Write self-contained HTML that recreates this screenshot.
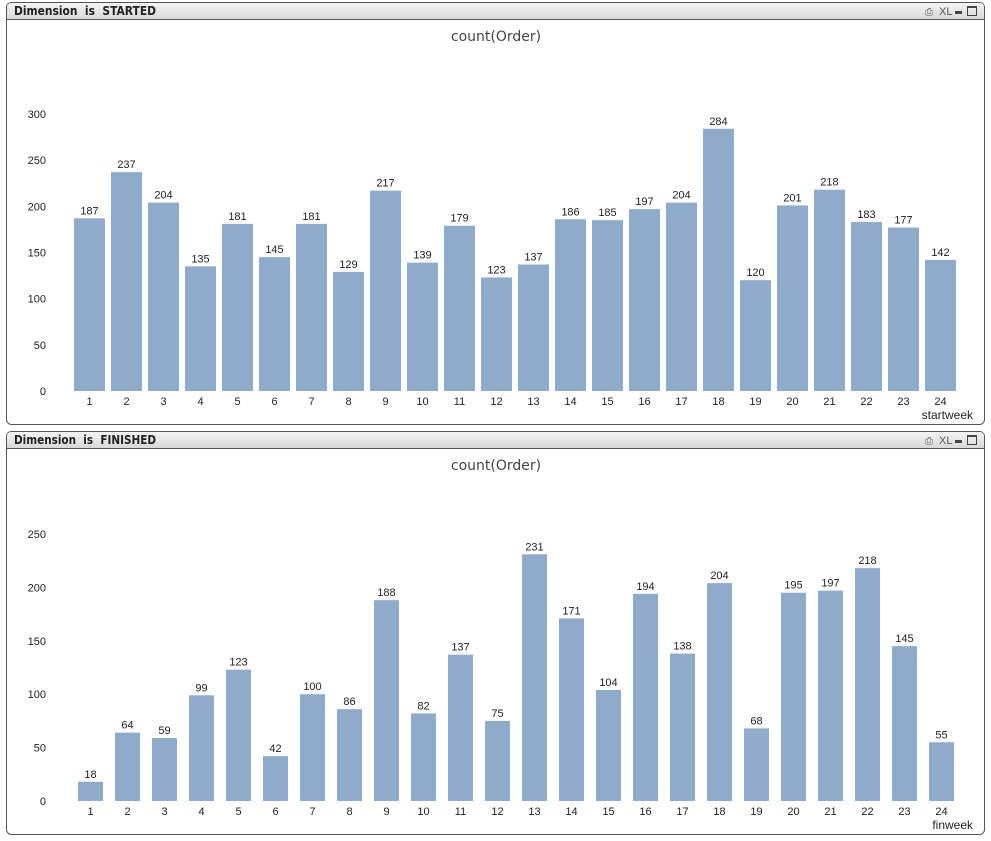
<!DOCTYPE html>
<html><head><meta charset="utf-8"><style>
body{margin:0;background:#fff;width:991px;height:841px;overflow:hidden}
svg{display:block;font-family:"Liberation Sans",Arial,sans-serif}
</style></head><body>
<svg id="s" width="991" height="841" xmlns="http://www.w3.org/2000/svg">
<defs><linearGradient id="g" x1="0" y1="0" x2="0" y2="1"><stop offset="0" stop-color="#f4f4f4"/><stop offset="1" stop-color="#d8d8d8"/></linearGradient></defs>
</svg>
<script>
const s=document.getElementById('s');let h='';
function panel(y0,y1,title,vals,zero,top,maxv,step,bx,bw,xl){
 h+=`<rect x="6.5" y="${y0+.5}" width="978" height="${y1-y0}" rx="5" fill="#fff" stroke="#555"/>`;
 h+=`<path d="M7 ${y0+17}V${y0+5}a4 4 0 0 1 4-4H980a4 4 0 0 1 4 4V${y0+17}Z" fill="url(#g)"/>`;
 h+=`<line x1="7" y1="${y0+17.5}" x2="984" y2="${y0+17.5}" stroke="#555"/>`;
 h+=`<text x="14" y="${y0+13}" font-size="12" font-weight="bold" fill="#222" font-family="DejaVu Sans" textLength="142" lengthAdjust="spacingAndGlyphs">${title}</text>`;
 h+=`<text x="925" y="${y0+13}" font-size="10" fill="#555">⎙</text><text x="939" y="${y0+13}" font-size="11" fill="#555">XL</text><rect x="955" y="${y0+9}" width="7" height="3" fill="#444"/><rect x="967.5" y="${y0+4.5}" width="9" height="9" fill="none" stroke="#444"/><rect x="967" y="${y0+4}" width="10" height="2" fill="#444"/>`;
 h+=`<text x="496" y="${y0+39}" font-size="14" fill="#444" text-anchor="middle" font-family="DejaVu Sans">count(Order)</text>`;
 const sc=(zero-top)/maxv;
 for(let v=0;v<=maxv;v+=step){const y=zero-v*sc;h+=`<text x="46" y="${y+4}" font-size="11" fill="#222" text-anchor="end">${v}</text>`;}
 vals.forEach((v,i)=>{const x=bx+i*37,y=zero-v*sc;
  h+=`<rect x="${x}" y="${y}" width="${bw}" height="${v*sc}" fill="#8eabcb"/>`;
  h+=`<text x="${x+bw/2}" y="${y-4}" font-size="11" fill="#222" text-anchor="middle">${v}</text>`;
  h+=`<text x="${x+bw/2}" y="${zero+14}" font-size="11" fill="#222" text-anchor="middle">${i+1}</text>`;});
 h+=`<text x="973" y="${zero+28}" font-size="12" fill="#222" text-anchor="end">${xl}</text>`;
}
panel(2,424,'Dimension&#160; is&#160; STARTED',[187,237,204,135,181,145,181,129,217,139,179,123,137,186,185,197,204,284,120,201,218,183,177,142],391,114,300,50,74,31,'startweek');
panel(431,834,'Dimension&#160; is&#160; FINISHED',[18,64,59,99,123,42,100,86,188,82,137,75,231,171,104,194,138,204,68,195,197,218,145,55],801,534,250,50,78,25,'finweek');
s.insertAdjacentHTML('beforeend',h);
</script>
</body></html>
